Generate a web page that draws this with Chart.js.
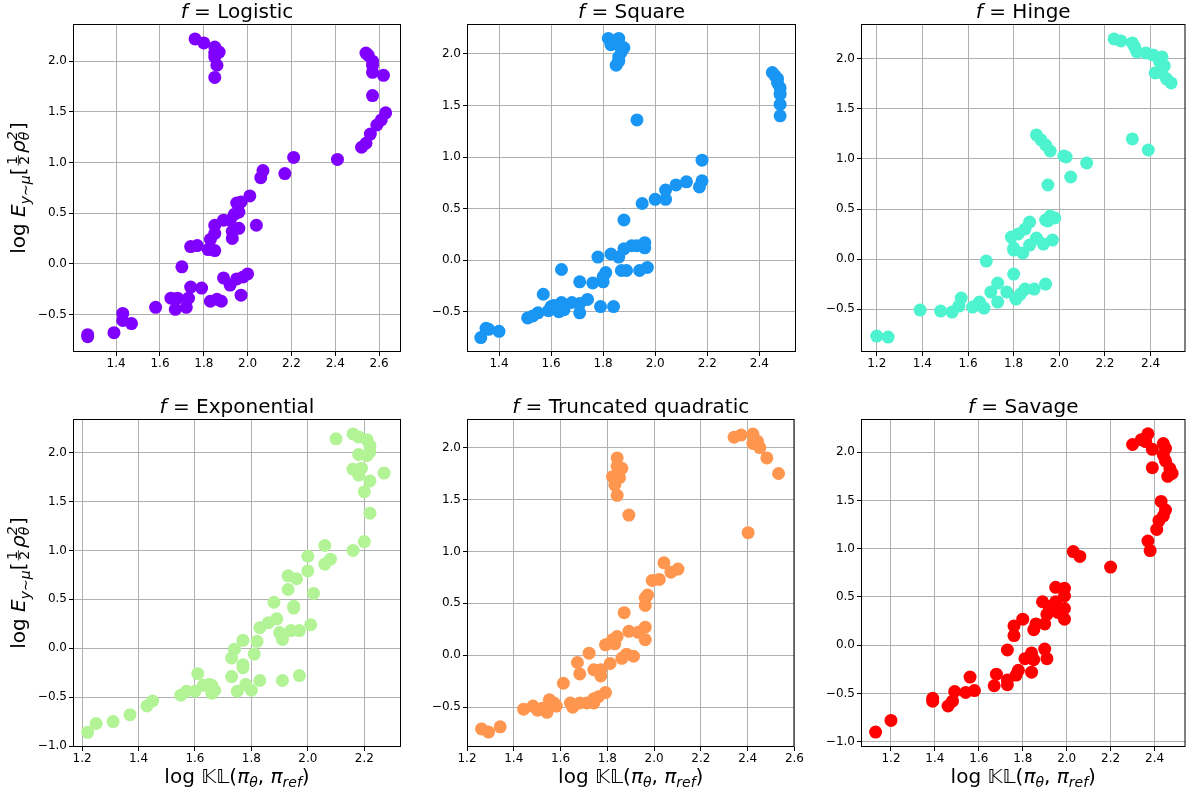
<!DOCTYPE html>
<html>
<head>
<meta charset="utf-8">
<title>KL vs reward scatter</title>
<script src="https://cdn.jsdelivr.net/npm/chart.js@4.4.1/dist/chart.umd.min.js"></script>
<style>
  html, body { margin: 0; padding: 0; background: #fff; }
  #fig { position: relative; width: 1192px; height: 794px; overflow: hidden; }
  #fig canvas { position: absolute; }
</style>
</head>
<body>
<div id="fig"></div>
<script>
// panel names (f divergences)
const panelNames = ['Logistic', 'Square', 'Hinge', 'Exponential', 'Truncated quadratic', 'Savage'];

// x = log KL(pi_theta, pi_ref), y = log E[1/2 rho^2]
const logisticX = [1.76,1.80,1.85,1.87,1.85,1.86,1.85,1.85, 2.54,2.55,2.57,2.57,2.57,2.62,2.57,2.63,2.61,2.59,2.56,2.54,2.52,
  2.41,2.21,2.17,2.07,2.06,2.01,1.97,1.95,1.96,1.94,1.92,1.89,1.85,1.85,1.83,2.04,1.96,1.93,1.93,1.74,
  1.77,1.82,1.85,1.70,1.74,1.79,1.89,1.92,1.95,1.98,2.00,1.97,1.83,1.86,1.88,1.65,1.68,1.73,1.67,1.72,
  1.58,1.43,1.43,1.47,1.39,1.27,1.27];
const logisticY = [2.22,2.18,2.14,2.09,2.04,1.96,1.84,2.08, 2.08,2.06,2.00,1.96,1.89,1.86,1.66,1.49,1.42,1.37,1.28,1.19,1.15,
  1.03,1.05,0.89,0.92,0.85,0.67,0.61,0.60,0.51,0.49,0.43,0.43,0.38,0.30,0.24,0.38,0.35,0.32,0.25,0.17,
  0.18,0.14,0.13,-0.03,-0.23,-0.24,-0.14,-0.21,-0.15,-0.13,-0.10,-0.31,-0.37,-0.35,-0.37,-0.34,-0.34,-0.34,-0.45,-0.43,
  -0.43,-0.49,-0.56,-0.59,-0.68,-0.72,-0.70];

const squareX = [1.82,1.86,1.83,1.85,1.88,1.87,1.86,1.86,1.85,1.87, 2.45,2.46,2.47,2.47,2.48,2.48,2.48,2.48,
  1.93,2.18,2.18,2.17,2.12,2.08,2.04,2.04,2.00,1.95,1.88,1.96,1.96,1.93,1.91,1.88,1.86,1.83,1.78,
  1.97,1.94,1.89,1.87,1.81,1.80,1.80,1.76,1.71,1.64,1.57,1.74,1.71,1.71,1.68,1.65,1.64,1.62,1.60,1.59,
  1.79,1.84,1.55,1.53,1.51,1.35,1.36,1.40,1.33,1.63,1.61];
const squareY = [2.15,2.15,2.09,2.10,2.06,2.02,1.97,1.93,1.89,2.07, 1.82,1.79,1.76,1.72,1.67,1.61,1.51,1.40,
  1.36,0.97,0.77,0.71,0.76,0.73,0.68,0.59,0.59,0.55,0.39,0.17,0.12,0.14,0.14,0.11,0.03,0.06,0.03,
  -0.07,-0.10,-0.10,-0.10,-0.12,-0.16,-0.21,-0.22,-0.21,-0.09,-0.33,-0.38,-0.42,-0.51,-0.41,-0.48,-0.41,-0.46,-0.45,-0.49,
  -0.45,-0.45,-0.51,-0.54,-0.56,-0.66,-0.67,-0.69,-0.75,-0.50,-0.44];

const hingeX = [2.24,2.27,2.32,2.33,2.34,2.38,2.41,2.45,2.44,2.46,2.42,2.45,2.47,2.49,
  2.32,2.39,2.12,2.05,2.02,2.03,1.90,1.92,1.94,1.96,1.95,1.98,1.96,1.94,1.95,1.87,1.85,1.82,1.79,
  1.90,1.87,1.93,1.97,1.80,1.80,1.84,1.68,1.80,1.94,1.89,1.85,1.83,1.81,1.73,1.70,1.77,1.73,
  1.57,1.56,1.65,1.65,1.67,1.62,1.53,1.48,1.39,1.20,1.25];
const hingeY = [2.20,2.18,2.16,2.12,2.07,2.06,2.04,2.02,1.97,1.93,1.86,1.86,1.80,1.76,
  1.20,1.09,0.96,0.82,1.03,1.02,1.24,1.19,1.14,1.08,0.74,0.41,0.43,0.39,0.38,0.37,0.30,0.25,0.22,
  0.21,0.14,0.15,0.19,0.11,0.09,0.06,-0.02,-0.15,-0.25,-0.30,-0.30,-0.35,-0.40,-0.24,-0.33,-0.33,-0.43,
  -0.39,-0.47,-0.43,-0.46,-0.49,-0.48,-0.53,-0.52,-0.51,-0.77,-0.78];

const exponentialX = [2.10,2.16,2.18,2.21,2.22,2.22,2.18,2.21,2.19,2.16,2.18,2.27,2.22,2.20,2.22,
  2.20,2.16,2.06,2.08,2.06,2.00,2.00,1.93,1.96,1.93,2.02,1.88,1.95,1.95,1.89,1.86,1.83,
  1.90,1.91,1.94,1.97,2.01,1.77,1.82,1.74,1.73,1.81,1.77,1.77,1.73,1.83,1.91,1.97,1.78,1.80,1.75,
  1.61,1.65,1.63,1.66,1.67,1.66,1.60,1.57,1.55,1.45,1.43,1.37,1.31,1.25,1.22];
const exponentialY = [2.14,2.19,2.16,2.13,2.07,2.01,1.98,1.97,1.84,1.83,1.77,1.79,1.71,1.60,1.38,
  1.09,1.00,1.05,0.91,0.86,0.94,0.79,0.74,0.71,0.60,0.56,0.47,0.43,0.41,0.30,0.26,0.21,
  0.16,0.09,0.18,0.18,0.24,0.08,0.07,-0.01,-0.10,-0.06,-0.17,-0.20,-0.29,-0.33,-0.33,-0.28,-0.37,-0.43,-0.44,
  -0.26,-0.37,-0.38,-0.38,-0.43,-0.46,-0.44,-0.44,-0.48,-0.54,-0.59,-0.68,-0.75,-0.77,-0.86];

const truncatedX = [2.38,2.41,2.46,2.46,2.48,2.49,2.52,2.57,2.44, 1.88,1.88,1.90,1.86,1.89,1.87,1.88,1.93,
  2.08,2.14,2.11,2.06,2.03,2.01,2.00,2.00,1.91,2.00,1.93,1.97,2.00,1.88,1.86,1.87,1.83,1.76,
  1.95,1.92,1.90,1.85,1.71,1.72,1.78,1.81,1.81,1.65,1.83,1.80,1.78,1.78,1.75,1.72,1.68,1.69,
  1.59,1.61,1.62,1.58,1.58,1.56,1.54,1.52,1.48,1.38,1.30,1.33];
const truncatedY = [2.10,2.12,2.13,2.04,2.06,2.00,1.90,1.75,1.18, 1.90,1.82,1.80,1.72,1.71,1.64,1.54,1.35,
  0.89,0.83,0.80,0.73,0.72,0.58,0.55,0.48,0.41,0.27,0.23,0.22,0.15,0.18,0.15,0.11,0.10,0.02,
  -0.01,0.01,-0.03,-0.08,-0.07,-0.18,-0.14,-0.14,-0.20,-0.27,-0.36,-0.40,-0.42,-0.46,-0.46,-0.46,-0.46,-0.50,
  -0.43,-0.46,-0.49,-0.52,-0.55,-0.51,-0.53,-0.49,-0.52,-0.69,-0.71,-0.74];

const savageX = [2.30,2.34,2.37,2.36,2.39,2.44,2.45,2.44,2.45,2.47,2.48,2.46,2.39,2.43,2.45,2.44,2.42,2.41,2.37,2.38,
  2.20,2.03,2.06,1.95,1.99,1.99,1.95,1.89,1.92,1.99,1.91,1.96,1.99,1.80,1.76,1.76,1.86,1.90,1.85,
  1.73,1.90,1.91,1.84,1.85,1.81,1.78,1.77,1.84,1.68,1.73,1.73,1.67,1.56,1.58,1.54,1.49,1.48,1.46,1.39,1.39,1.20,1.13];
const savageY = [2.08,2.13,2.19,2.11,2.03,2.09,2.04,1.97,1.91,1.83,1.78,1.75,1.84,1.49,1.40,1.34,1.29,1.20,1.08,0.98,
  0.81,0.97,0.92,0.60,0.59,0.51,0.45,0.45,0.40,0.38,0.32,0.34,0.27,0.27,0.20,0.10,0.22,0.22,0.16,
  -0.05,-0.04,-0.14,-0.08,-0.15,-0.14,-0.26,-0.31,-0.28,-0.30,-0.36,-0.41,-0.42,-0.33,-0.47,-0.49,-0.48,-0.58,-0.63,-0.55,-0.58,-0.78,-0.90];

const seriesX = [logisticX, squareX, hingeX, exponentialX, truncatedX, savageX];
const seriesY = [logisticY, squareY, hingeY, exponentialY, truncatedY, savageY];

// axis limits
const xLimits = [[1.203, 2.70], [1.277, 2.541], [1.131, 2.553], [1.168, 2.330], [1.238, 2.638], [1.0635, 2.541]];
const yLimits = [[-0.871, 2.367], [-0.890, 2.290], [-0.929, 2.349], [-1.010, 2.343], [-0.884, 2.275], [-1.055, 2.344]];

// rainbow colormap samples
const colors = ['#8000ff', '#1996f3', '#4df3ce', '#b2f396', '#ff964f', '#ff0000'];

// layout of the 2x3 grid
const cols = [
  { left: 0, width: 410, yW: 73, padR: 9 },
  { left: 410, width: 395, yW: 57, padR: 9 },
  { left: 805, width: 387, yW: 56, padR: 3 }
];
const rows = [
  { top: 0, height: 390, padT: 24, xH: 38 },
  { top: 390, height: 404, padT: 29, xH: 47 }
];

const FAMILY = '"DejaVu Sans", sans-serif';
const fontStr = (size, italic) => (italic ? 'italic ' : '') + size + 'px ' + FAMILY;

function segWidth(ctx, s, size) {
  const sz = size * (s.sc || 1);
  ctx.font = fontStr(sz, s.it);
  if (s.frac) return Math.max(ctx.measureText(s.frac[0]).width, ctx.measureText(s.frac[1]).width) + sz * 0.4;
  if (s.sup !== undefined) return Math.max(ctx.measureText(s.sup).width, ctx.measureText(s.sub).width) + sz * 0.1;
  return ctx.measureText(s.t).width;
}

// draw mixed text (italic / sub / sup / fraction) centred on cx
function drawRich(ctx, segs, cx, y, size) {
  let total = 0;
  for (const s of segs) total += segWidth(ctx, s, size);
  let x = cx - total / 2;
  ctx.fillStyle = '#000';
  ctx.strokeStyle = '#000';
  ctx.textBaseline = 'alphabetic';
  for (const s of segs) {
    const sz = size * (s.sc || 1);
    const w = segWidth(ctx, s, size);
    if (s.frac) {
      const bar = y - size * 0.33;
      ctx.lineWidth = 0.8;
      ctx.beginPath();
      ctx.moveTo(x + sz * 0.15, bar);
      ctx.lineTo(x + w - sz * 0.15, bar);
      ctx.stroke();
      ctx.textAlign = 'center';
      ctx.fillText(s.frac[0], x + w / 2, bar - sz * 0.12);
      ctx.fillText(s.frac[1], x + w / 2, bar + sz * 0.78);
      ctx.textAlign = 'left';
    } else if (s.sup !== undefined) {
      ctx.textAlign = 'left';
      ctx.fillText(s.sup, x, y - size * 0.42);
      ctx.fillText(s.sub, x, y + size * 0.22);
    } else {
      ctx.textAlign = 'left';
      ctx.fillText(s.t, x, y + (s.dy || 0) * size);
    }
    x += w;
  }
}

const yLabelSegs = [
  { t: 'log ' }, { t: 'E', it: true }, { t: 'y\u223C\u03BC', it: true, sc: 0.7, dy: 0.25 },
  { t: '[' }, { frac: ['1', '2'], sc: 0.7 }, { t: '\u03C1', it: true },
  { sup: '2', sub: '\u03B8', sc: 0.7, it: true }, { t: ']' }
];
const xLabelSegs = [
  { t: 'log ' }, { t: '\uD835\uDD42\uD835\uDD43' }, { t: '(' }, { t: '\u03C0', it: true },
  { t: '\u03B8', it: true, sc: 0.7, dy: 0.22 }, { t: ', ' }, { t: '\u03C0', it: true },
  { t: 'ref', it: true, sc: 0.7, dy: 0.22 }, { t: ')' }
];

const panelDecor = {
  id: 'panelDecor',
  afterDraw(chart, args, opts) {
    const ctx = chart.ctx;
    const a = chart.chartArea;
    ctx.save();
    // axes box
    ctx.strokeStyle = '#000';
    ctx.lineWidth = 1;
    ctx.strokeRect(a.left + 0.5, a.top + 0.5, a.right - a.left - 1, a.bottom - a.top - 1);
    // title
    drawRich(ctx, [{ t: 'f', it: true }, { t: ' = ' }, { t: opts.name }], (a.left + a.right) / 2, a.top - 6, 20);
    if (opts.yLabel) {
      ctx.save();
      ctx.translate(25, (a.top + a.bottom) / 2);
      ctx.rotate(-Math.PI / 2);
      drawRich(ctx, yLabelSegs, 0, 0, 20);
      ctx.restore();
    }
    if (opts.xLabel) {
      drawRich(ctx, xLabelSegs, (a.left + a.right) / 2, a.bottom + 36, 20);
    }
    ctx.restore();
  }
};

const fmt = v => (Math.round(v * 10) / 10).toFixed(1).replace('-', '\u2212');
const fig = document.getElementById('fig');

panelNames.forEach((name, i) => {
  const row = rows[Math.floor(i / 3)];
  const col = cols[i % 3];
  const cv = document.createElement('canvas');
  cv.width = col.width;
  cv.height = row.height;
  cv.style.left = col.left + 'px';
  cv.style.top = row.top + 'px';
  cv.style.width = col.width + 'px';
  cv.style.height = row.height + 'px';
  fig.appendChild(cv);

  const points = seriesX[i].map((x, k) => ({ x: x, y: seriesY[i][k] }));
  const gridOpts = { color: '#b0b0b0', lineWidth: 1, tickLength: 4, tickColor: '#000', tickWidth: 1 };

  new Chart(cv, {
    type: 'scatter',
    data: {
      datasets: [{
        data: points,
        backgroundColor: colors[i],
        borderWidth: 0,
        pointRadius: 6.5,
        pointHoverRadius: 6.5
      }]
    },
    options: {
      responsive: false,
      animation: false,
      events: [],
      layout: { padding: { top: row.padT, right: col.padR, left: 0, bottom: 0 } },
      plugins: {
        legend: { display: false },
        tooltip: { enabled: false },
        panelDecor: { name: name, yLabel: i % 3 === 0, xLabel: i >= 3 }
      },
      scales: {
        x: {
          type: 'linear',
          min: xLimits[i][0],
          max: xLimits[i][1],
          afterFit: s => { s.height = row.xH; },
          grid: gridOpts,
          border: { display: false },
          ticks: {
            stepSize: 0.2, includeBounds: false, autoSkip: false, maxRotation: 0,
            padding: 1, color: '#000', font: { family: FAMILY, size: 12 }, callback: fmt
          }
        },
        y: {
          type: 'linear',
          min: yLimits[i][0],
          max: yLimits[i][1],
          afterFit: s => { s.width = col.yW; },
          grid: gridOpts,
          border: { display: false },
          ticks: {
            stepSize: 0.5, includeBounds: false, autoSkip: false,
            padding: 2, color: '#000', font: { family: FAMILY, size: 12 }, callback: fmt
          }
        }
      }
    },
    plugins: [panelDecor]
  });
});
</script>
</body>
</html>
